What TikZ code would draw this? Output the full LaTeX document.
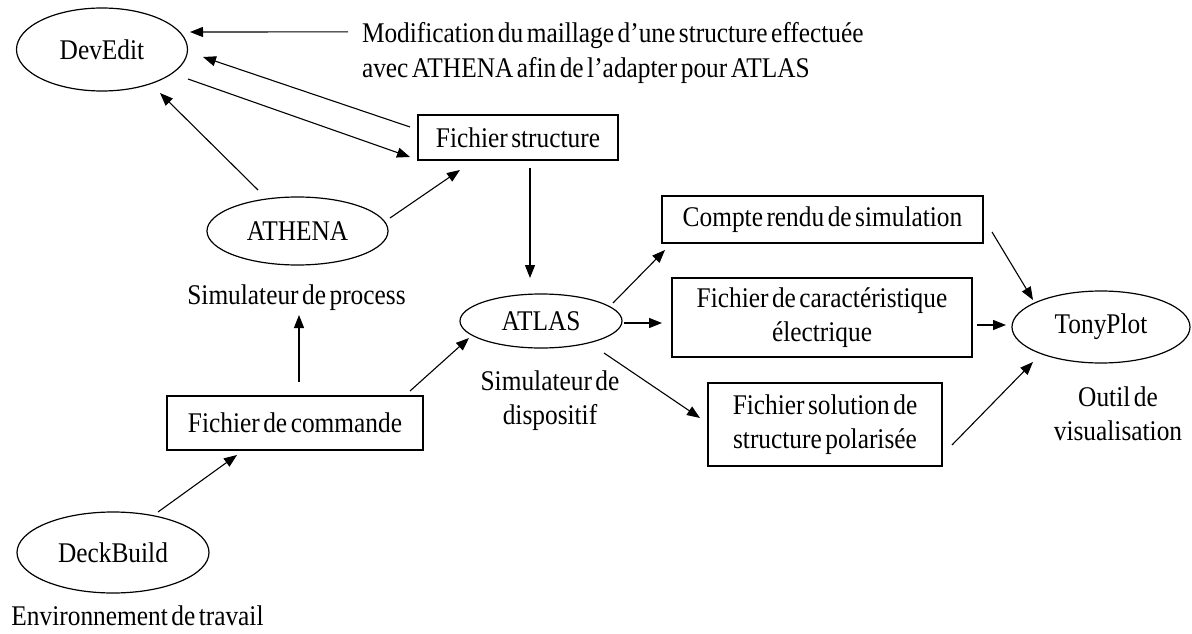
\documentclass[tikz,border=0pt]{standalone}
\usepackage{fontspec}
\setmainfont{Liberation Serif}[WordSpace=0.55,FakeStretch=0.89]
\usetikzlibrary{arrows.meta,calc,shapes.geometric}
\begin{document}
\begin{tikzpicture}[x=1pt,y=-1pt,
  txt/.style={font=\fontsize{28.5}{34}\selectfont, inner sep=0pt, outer sep=0pt},
  ell/.style={txt, draw, ellipse, line width=1.2pt},
  box/.style={txt, draw, rectangle, line width=1.2pt, align=center},
  arr/.style={-{Triangle[length=13pt,width=10pt]}, line width=1.1pt},
]
\useasboundingbox (0,0) rectangle (1192,634);

% nodes
\node[ell, minimum width=171, minimum height=83] (devedit) at (102,49.5) {DevEdit};
\node[txt, align=left, anchor=west, font=\fontsize{28.5}{35}\selectfont] (msg) at (362,53.4)
  {Modification du maillage d’une structure effectuée\\avec ATHENA afin de l’adapter pour ATLAS};
\node[box, minimum width=200, minimum height=45] (fs) at (518,137.5) {Fichier structure};
\node[ell, minimum width=181, minimum height=68] (athena) at (297.5,231) {ATHENA};
\node[txt, anchor=base] (simproc) at (296.5,304) {Simulateur de process};
\node[ell, minimum width=162, minimum height=54] (atlas) at (541,321) {ATLAS};
\node[txt, align=center] (simdisp) at (550,400.4) {Simulateur de\\dispositif};
\node[box, minimum width=256, minimum height=54] (cmd) at (295,423) {Fichier de commande};
\node[ell, minimum width=192, minimum height=81] (deck) at (113,552.5) {DeckBuild};
\node[txt, anchor=base] (env) at (137.5,625) {Environnement de travail};
\node[box, minimum width=321, minimum height=47] (cr) at (822.5,219.5) {Compte rendu de simulation};
\node[box, minimum width=300, minimum height=79] (fc) at (822,317.5) {Fichier de caractéristique\\électrique};
\node[box, minimum width=234, minimum height=83] (fsol) at (825,424.5) {Fichier solution de\\structure polarisée};
\node[ell, minimum width=178, minimum height=72] (tp) at (1101,327) {TonyPlot};
\node[txt, align=center] (outil) at (1118,414) {Outil de\\visualisation};

% connectors
\draw[arr] ($(msg.west)+(-14,-21.5)$) -- ($(devedit.center)+(88,-17.5)$);
\draw[arr] ($(fs.west)+(-8,-10.5)$) -- ($(devedit.center)+(101,7.5)$);
\draw[arr] ($(devedit.center)+(86,29.5)$) -- ($(fs.west)+(-8,19.5)$);
\draw[arr] ($(athena.center)+(-39.5,-41)$) -- ($(devedit.center)+(58,43.5)$);
\draw[arr] ($(athena.center)+(92.5,-13)$) -- ($(fs.south west)+(42,10)$);
\draw[arr] ($(fs.south)+(12,8)$) -- ($(atlas.center)+(-11,-43)$);
\draw[arr] ($(cmd.north)+(4,-14)$) -- ($(cmd.north)+(4,-81)$);
\draw[arr] ($(cmd.north east)+(-13,-5)$) -- ($(atlas.center)+(-72,17)$);
\draw[arr] ($(deck.center)+(45,-40.5)$) -- ($(cmd.south west)+(70,5)$);
\draw[arr] ($(atlas.center)+(72,-18)$) -- ($(cr.south west)+(3,7)$);
\draw[arr] ($(atlas.center)+(83,2)$) -- ($(fc.west)+(-10,5.5)$);
\draw[arr] ($(fc.east)+(5,7.5)$) -- ($(tp.center)+(-95,-2)$);
\draw[arr] ($(atlas.center)+(63,32)$) -- ($(fsol.west)+(-8,-6.5)$);
\draw[arr] ($(cr.east)+(9,12.5)$) -- ($(tp.center)+(-68,-27)$);
\draw[arr] ($(fsol.east)+(10,20.5)$) -- ($(tp.center)+(-68,35)$);
\end{tikzpicture}
\end{document}
